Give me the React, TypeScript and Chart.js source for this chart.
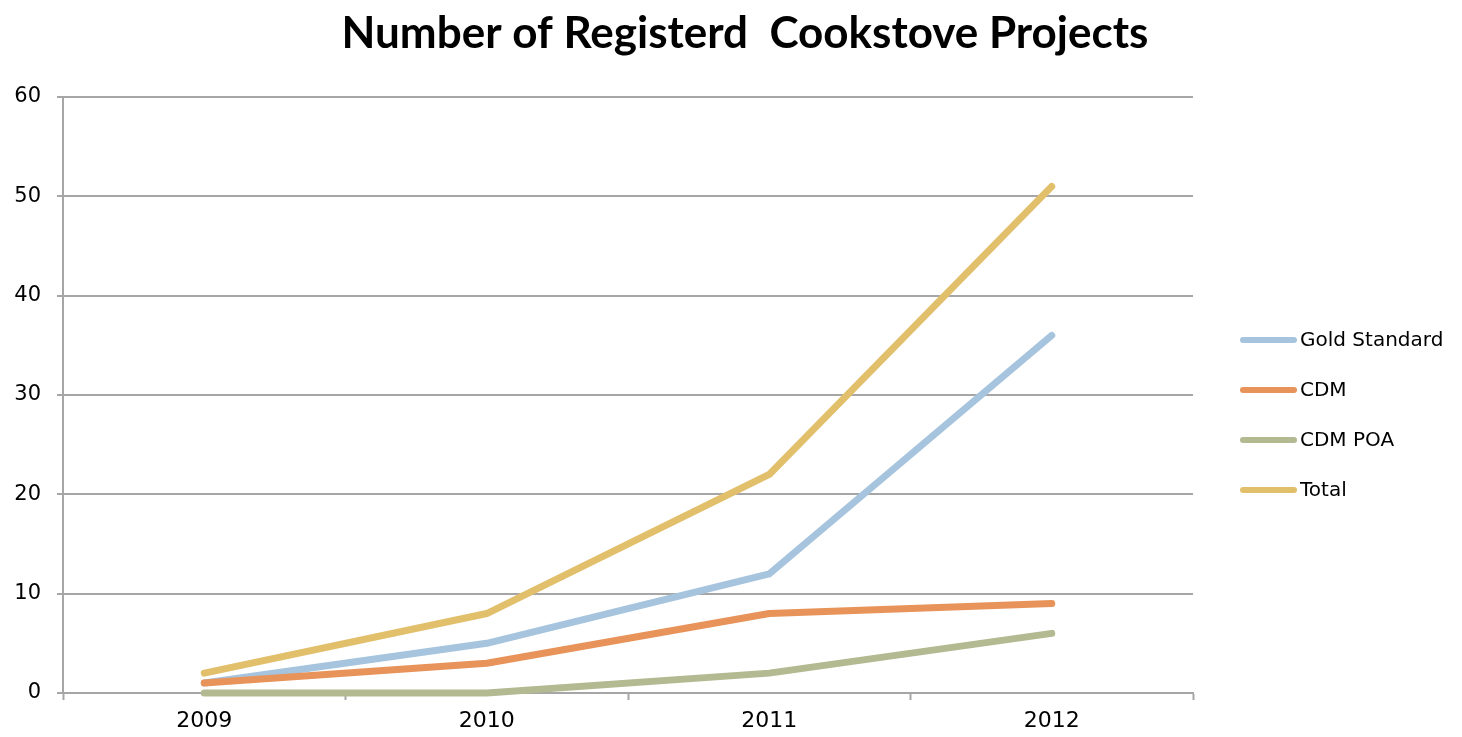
import React, { useEffect, useRef } from "react";
import { Chart, registerables } from "chart.js";

Chart.register(...registerables);

const categories = ["2009", "2010", "2011", "2012"];
const seriesNames = ["Gold Standard", "CDM", "CDM POA", "Total"];
const goldStandard = [1, 5, 12, 36];
const cdm = [1, 3, 8, 9];
const cdmPoa = [0, 0, 2, 6];
const total = [2, 8, 22, 51];
const colors = ["#A6C4DD", "#E8935A", "#B3B991", "#E1BF6B"];
const yMin = 0;
const yMax = 60;
const yStep = 10;
const titleText = "Number of Registerd  Cookstove Projects";

const LABEL_FONT = "'DejaVu Sans', sans-serif";
const TITLE_FONT = "Lato, 'Open Sans', sans-serif";

const sideLegendAndTitle = {
  id: "sideLegendAndTitle",
  afterDraw(chart: any) {
    const ctx = chart.ctx;
    const area = chart.chartArea;
    ctx.save();
    // title
    ctx.fillStyle = "#000";
    ctx.font = `bold 44px ${TITLE_FONT}`;
    ctx.textAlign = "center";
    ctx.textBaseline = "alphabetic";
    ctx.fillText(chart.options.plugins.customTitle.text, 737, 40);
    // legend
    const x0 = area.right + 47;
    const lineLen = 57;
    const firstY = 332;
    const gap = 50;
    chart.data.datasets.forEach((ds: any, i: number) => {
      const y = firstY + i * gap;
      ctx.strokeStyle = ds.borderColor;
      ctx.lineWidth = 6;
      ctx.lineCap = "round";
      ctx.beginPath();
      ctx.moveTo(x0 + 3, y);
      ctx.lineTo(x0 + lineLen - 3, y);
      ctx.stroke();
      ctx.fillStyle = "#000";
      ctx.font = `20px ${LABEL_FONT}`;
      ctx.textBaseline = "middle";
      ctx.textAlign = "left";
      ctx.fillText(ds.label, x0 + lineLen + 3, y + 1);
    });
    ctx.restore();
  },
};

export default function App() {
  const ref = useRef<HTMLCanvasElement | null>(null);
  useEffect(() => {
    if (!ref.current) return;
    const series = [goldStandard, cdm, cdmPoa, total];
    const chart = new Chart(ref.current, {
      type: "line",
      data: {
        labels: categories,
        datasets: series.map((d, i) => ({
          label: seriesNames[i],
          data: d,
          borderColor: colors[i],
          backgroundColor: colors[i],
          borderWidth: 7,
          pointRadius: 0,
          pointHoverRadius: 0,
          tension: 0,
          borderCapStyle: "round" as const,
          borderJoinStyle: "round" as const,
          clip: 10,
          order: 4 - i,
        })),
      },
      options: {
        responsive: true,
        maintainAspectRatio: false,
        animation: false,
        layout: { padding: { left: 0, right: 261, top: 89, bottom: 3 } },
        plugins: {
          legend: { display: false },
          tooltip: { enabled: false },
          title: { display: false },
          customTitle: { text: titleText },
        } as any,
        scales: {
          x: {
            type: "category",
            offset: true,
            grid: {
              offset: true,
              drawOnChartArea: false,
              drawTicks: true,
              tickLength: 7,
              tickColor: "#A6A6A6",
              tickWidth: 2,
            },
            border: { display: true, color: "#A6A6A6", width: 2 },
            ticks: {
              color: "#000",
              font: { family: LABEL_FONT, size: 22 },
              padding: 8,
              maxRotation: 0,
            },
            afterFit(scale: any) {
              scale.height = 41;
            },
          },
          y: {
            min: yMin,
            max: yMax,
            grid: {
              color: "#A6A6A6",
              lineWidth: 2,
              drawTicks: true,
              tickLength: 6,
            },
            border: { display: true, color: "#A6A6A6", width: 2 },
            ticks: {
              stepSize: yStep,
              color: "#000",
              font: { family: LABEL_FONT, size: 21 },
              padding: 16,
            },
            afterFit(scale: any) {
              scale.width = 55;
            },
          },
        },
      },
      plugins: [sideLegendAndTitle],
    });
    return () => chart.destroy();
  }, []);
  return (
    <div style={{ position: "relative", width: "1446px", height: "729px" }}>
      <canvas ref={ref} />
    </div>
  );
}
